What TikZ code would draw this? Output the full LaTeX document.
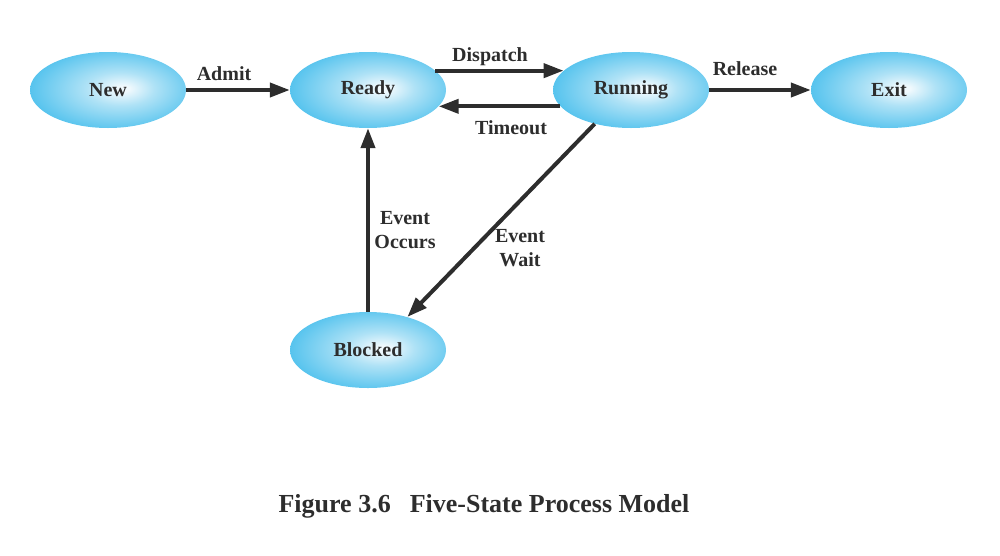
\documentclass[tikz,border=0pt]{standalone}
\usepackage{fontspec}
\setmainfont{Liberation Serif}
\usetikzlibrary{shapes.geometric,arrows.meta}
\definecolor{edgec}{RGB}{35,178,233}
\definecolor{midc}{RGB}{88,196,238}
\definecolor{litc}{RGB}{175,226,246}
\definecolor{inc}{RGB}{240,249,253}
\definecolor{ink}{RGB}{45,45,45}
\pgfdeclareradialshading{stateshade}{\pgfpoint{5bp}{1bp}}{color(0bp)=(inc); color(2bp)=(inc); color(11bp)=(litc); color(27bp)=(midc); color(45bp)=(edgec); color(50bp)=(edgec)}
\tikzset{
  statenode/.style={ellipse, shading=stateshade, minimum width=156pt, minimum height=76pt, inner sep=0pt, font=\fontsize{20}{23}\selectfont\bfseries, text=ink},
  conn/.style={draw=ink, line width=4pt, -{Triangle[length=20pt,width=14pt]}},
  lbl/.style={font=\fontsize{20}{24}\selectfont\bfseries, text=ink, align=center, inner sep=0pt}
}
\begin{document}
\begin{tikzpicture}[x=1pt,y=-1pt]
\useasboundingbox (0,0) rectangle (1000,555);
\node[statenode] (new) at (108,90) {New};
\node[statenode] (ready) at (368,90) {Ready};
\node[statenode] (running) at (631,90) {Running};
\node[statenode] (exit) at (889,90) {Exit};
\node[statenode] (blocked) at (368,350) {Blocked};

\draw[conn] (new.east) -- (ready.west);
\draw[conn] (ready.16) -- (running.164);
\draw[conn] (running.193) -- (ready.-13);
\draw[conn] (running.east) -- (exit.west);
\draw[conn] (blocked.north) -- (ready.south);
\draw[conn] (running.223) -- (blocked.40);

\node[lbl] (admitlbl) at (224,74) {Admit};
\node[lbl] (dispatchlbl) at (490,57) {Dispatch};
\node[lbl] (timeoutlbl) at (511,128) {Timeout};
\node[lbl] (releaselbl) at (745,69) {Release};
\node[lbl] (occurslbl) at (405,230) {Event\\Occurs};
\node[lbl] (waitlbl) at (520,248) {Event\\Wait};
\node[font=\fontsize{26}{30}\selectfont\bfseries, text=ink, inner sep=0pt] (caption) at (484,506) {Figure 3.6\hspace{19pt}Five-State Process Model};
\end{tikzpicture}
\end{document}
